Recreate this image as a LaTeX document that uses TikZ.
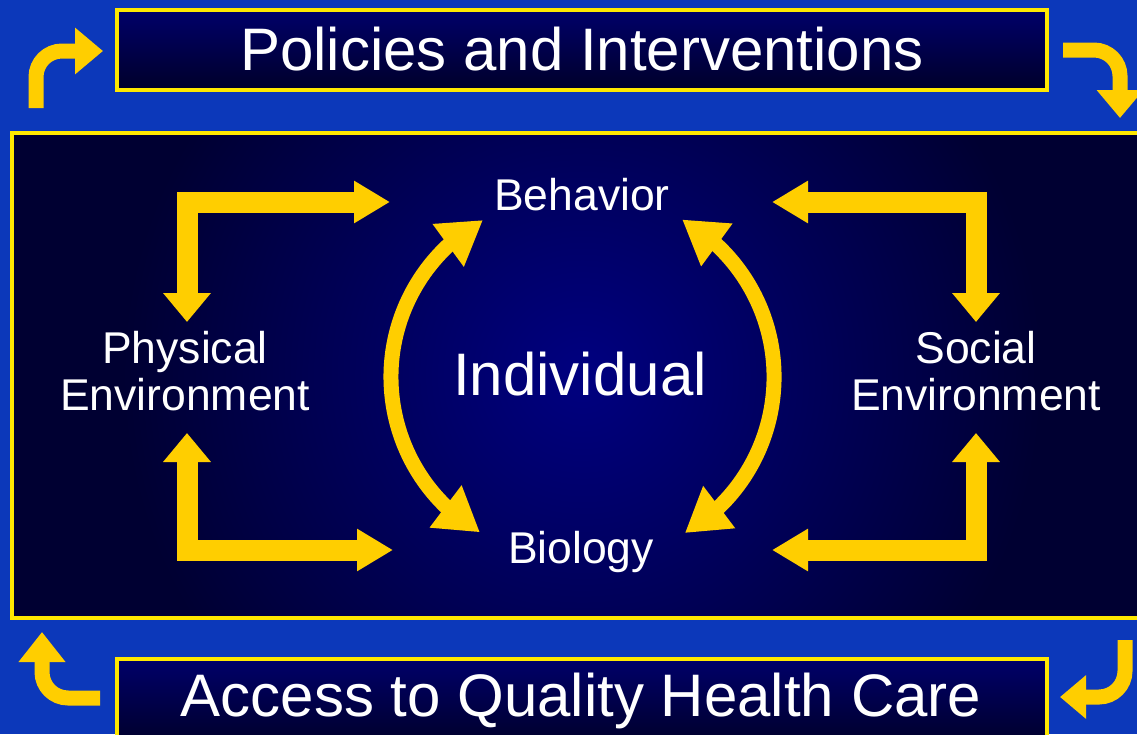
\documentclass[tikz,border=0pt]{standalone}
\usepackage{fontspec}
\setmainfont{Liberation Sans}
\usetikzlibrary{arrows.meta,bending}
\definecolor{bgblue}{RGB}{12,56,186}
\definecolor{navy}{RGB}{0,0,50}
\definecolor{navytop}{RGB}{0,0,105}
\definecolor{navybot}{RGB}{0,0,42}
\definecolor{glow}{RGB}{0,0,128}
\definecolor{gold}{RGB}{255,206,0}
\definecolor{frame}{RGB}{255,232,0}
\begin{document}
\begin{tikzpicture}[x=1pt,y=-1pt,
  lbl/.style={text=white, font=\fontsize{44.5}{47}\selectfont, inner sep=0pt},
  big/.style={text=white, font=\fontsize{60}{66}\selectfont, inner sep=0pt},
  framebox/.style={draw=frame, line width=4pt},
  larrow/.style={draw=gold, line width=21pt, line join=miter},
  carrow/.style={draw=gold, line width=15pt},
  corner/.style={draw=gold, line width=15pt, rounded corners=26pt},
]
\useasboundingbox (0,0) rectangle (1137,734);
\fill[bgblue] (0,0) rectangle (1137,734);

% top box
\shade[top color=navytop, bottom color=navybot] (117,10) rectangle (1047,90);
\draw[framebox] (117,10) rectangle (1047,90);
\node[big, anchor=base] (policies) at (582,70) {Policies and Interventions};

% main box
\begin{scope}
\clip (12,133) rectangle (1150,618);
\fill[navy] (12,133) rectangle (1150,618);
\shade[inner color=glow, outer color=navy] (582,375) circle (460);
\end{scope}
\draw[framebox] (12,133) rectangle (1150,618);

% bottom box
\shade[top color=navytop, bottom color=navybot] (117,659) rectangle (1047,745);
\draw[framebox] (117,659) rectangle (1047,745);
\node[big, anchor=base] (access) at (581,716) {Access to Quality Health Care};

% labels
\node[lbl, anchor=base] (behavior) at (582,210) {Behavior};
\node[lbl, anchor=base] (biology) at (581,563) {Biology};
\node[big, anchor=base] (individual) at (580,395) {Individual};
\node[lbl, align=center] (physical) at (185,371.5) {Physical\\Environment};
\node[lbl, align=center] (social) at (976,371.5) {Social\\Environment};

% L arrows
\coordinate (pe-up) at (187,322);
\coordinate (pe-dn) at (187,433);
\coordinate (be-l) at (390,202);
\coordinate (bi-l) at (393,550);
\coordinate (se-up) at (976,322);
\coordinate (se-dn) at (976,433);
\coordinate (be-r) at (772,202);
\coordinate (bi-r) at (772,550);
\draw[larrow, {Triangle[length=29pt,width=46pt]}-{Triangle[length=36pt,width=40pt]}] (pe-up) |- (be-l);
\draw[larrow, {Triangle[length=29pt,width=46pt]}-{Triangle[length=36pt,width=40pt]}] (pe-dn) |- (bi-l);
\draw[larrow, {Triangle[length=29pt,width=46pt]}-{Triangle[length=36pt,width=40pt]}] (se-up) |- (be-r);
\draw[larrow, {Triangle[length=29pt,width=46pt]}-{Triangle[length=36pt,width=40pt]}] (se-dn) |- (bi-r);

% curved arrows around Individual
\coordinate (lb) at (479.9,532.3);
\coordinate (rb) at (684.9,533);
\draw[carrow, {Triangle[length=43pt,width=50pt]}-{Triangle[length=43pt,width=50pt]}] (lb) arc[start angle=120.4, end angle=240.7, radius=180];
\draw[carrow, {Triangle[length=43pt,width=50pt]}-{Triangle[length=43pt,width=50pt]}] (rb) arc[start angle=59.5, end angle=-60.5, radius=181];

% corner arrows
\coordinate (tl-s) at (36,108);
\coordinate (tl-e) at (103,51);
\coordinate (tr-s) at (1063,50);
\coordinate (tr-e) at (1120,118);
\coordinate (bl-s) at (100,698);
\coordinate (bl-e) at (42,632);
\coordinate (br-s) at (1125,640);
\coordinate (br-e) at (1060,697);
\draw[corner, -{Triangle[length=28pt,width=45pt]}] (tl-s) |- (tl-e);
\draw[corner, -{Triangle[length=28pt,width=45pt]}] (tr-s) -| (tr-e);
\draw[corner, -{Triangle[length=30pt,width=45pt]}] (bl-s) -| (bl-e);
\draw[corner, -{Triangle[length=26pt,width=42pt]}] (br-s) |- (br-e);
\end{tikzpicture}
\end{document}
